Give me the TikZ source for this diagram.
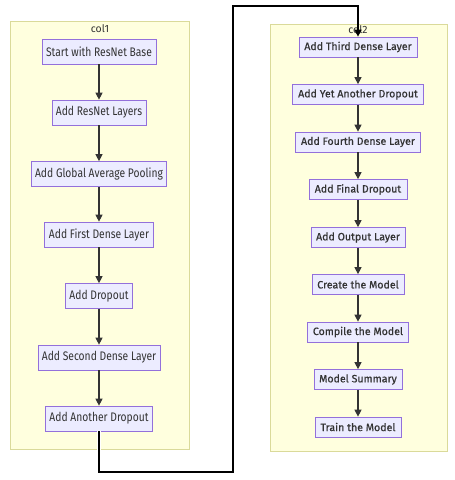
\documentclass[tikz,border=0pt]{standalone}
\usepackage{fontspec}
\setmainfont{Fira Sans}
\newfontfamily\leftfont[FakeStretch=0.83]{Fira Sans}
\newfontfamily\rightfont[FakeBold=0.6]{Fira Sans}
\usetikzlibrary{arrows.meta}
\definecolor{clfill}{HTML}{FFFFDE}
\definecolor{clline}{HTML}{DADA9A}
\definecolor{ndfill}{HTML}{ECECFF}
\definecolor{ndline}{HTML}{9370DB}
\definecolor{txt}{HTML}{333333}
\tikzset{
  cluster/.style={draw=clline, fill=clfill, line width=0.8pt},
  lnode/.style={draw=ndline, fill=ndfill, line width=0.7pt, text=txt, inner sep=0pt,
     minimum height=25pt, font=\leftfont\fontsize{12.4}{13}\selectfont},
  rnode/.style={draw=ndline, fill=ndfill, line width=0.7pt, text=txt, inner sep=0pt,
     minimum height=20pt, font=\rightfont\fontsize{10.6}{11}\selectfont},
  flow/.style={draw=txt, line width=1.1pt, -{Triangle[length=7pt,width=7pt]}},
  link/.style={draw=black, line width=1.6pt, -{Triangle[length=7pt,width=7pt]}},
  ctitle/.style={text=txt, inner sep=0pt, font=\fontsize{10.5}{11}\selectfont},
}
\begin{document}
\begin{tikzpicture}[x=1pt,y=-1pt]
\useasboundingbox[fill=white] (0,0) rectangle (455,480);
% clusters
\draw[cluster] (10,21) rectangle (189,449);
\node[ctitle] (t1) at (100,29) {col1};
\draw[cluster] (270,24) rectangle (447,451);
% left nodes
\node[lnode, minimum width=114pt] (a1) at (99,51.5) {Start with ResNet Base};
\node[lnode, minimum width=94pt] (a2) at (99,112.5) {Add ResNet Layers};
\node[lnode, minimum width=135pt] (a3) at (99,174) {Add Global Average Pooling};
\node[lnode, minimum width=109pt] (a4) at (99,234.5) {Add First Dense Layer};
\node[lnode, minimum width=67pt] (a5) at (99,296) {Add Dropout};
\node[lnode, minimum width=122pt] (a6) at (99,357.5) {Add Second Dense Layer};
\node[lnode, minimum width=107pt] (a7) at (99,418.5) {Add Another Dropout};
% right nodes
\node[rnode, minimum width=118pt] (b1) at (358,47) {Add Third Dense Layer};
\node[rnode, minimum width=131pt] (b2) at (358,94.5) {Add Yet Another Dropout};
\node[rnode, minimum width=125pt] (b3) at (358,142) {Add Fourth Dense Layer};
\node[rnode, minimum width=98pt] (b4) at (358,189.5) {Add Final Dropout};
\node[rnode, minimum width=94pt] (b5) at (358,237.5) {Add Output Layer};
\node[rnode, minimum width=92pt] (b6) at (358,284.5) {Create the Model};
\node[rnode, minimum width=101pt] (b7) at (358,332) {Compile the Model};
\node[rnode, minimum width=88pt] (b8) at (358,379.5) {Model Summary};
\node[rnode, minimum width=86pt] (b9) at (358,427) {Train the Model};
% left flow
\foreach \p/\q in {a1/a2,a2/a3,a3/a4,a4/a5,a5/a6,a6/a7}
  \draw[flow] (\p) -- (\q);
% right flow
\foreach \p/\q in {b1/b2,b2/b3,b3/b4,b4/b5,b5/b6,b6/b7,b7/b8,b8/b9}
  \draw[flow] (\p) -- (\q);
% link between columns
\coordinate (c1) at (99,472);
\coordinate (c2) at (233,472);
\coordinate (c3) at (233,6);
\coordinate (c4) at (358,6);
\draw[white, line width=4pt] (a7.south) -- ++(0,18.5);
\node[ctitle] (t2) at (358,29.5) {col2};
\draw[link] (a7.south) -- (c1) -- (c2) -- (c3) -- (c4) -- (b1.north);
\end{tikzpicture}
\end{document}
